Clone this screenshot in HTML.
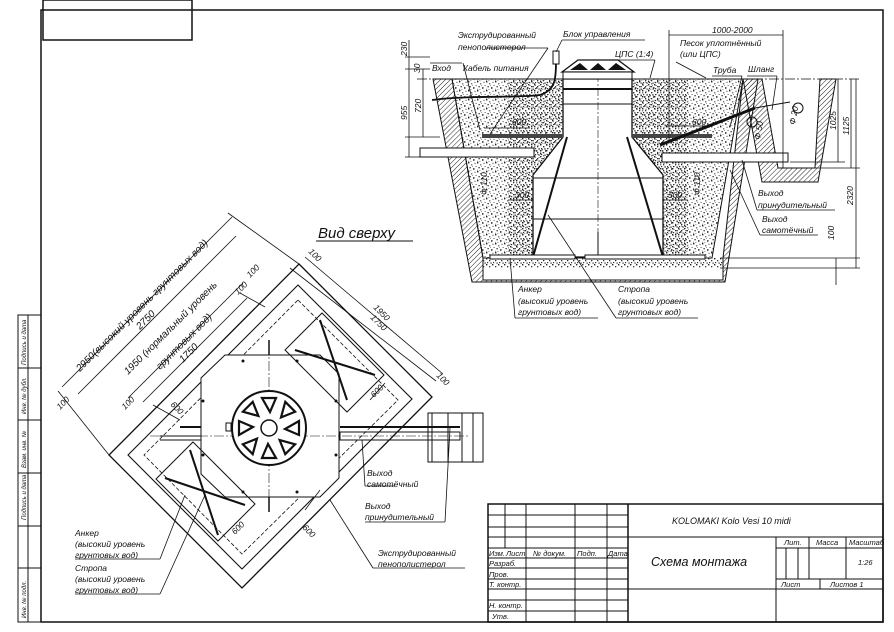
<!DOCTYPE html>
<html><head><meta charset="utf-8"><style>
html,body{margin:0;padding:0;background:#fff}
svg{display:block}
text{font-family:"Liberation Sans","DejaVu Sans",sans-serif;font-style:italic;fill:#111}
</style></head><body>
<svg width="894" height="632" viewBox="0 0 894 632" xmlns="http://www.w3.org/2000/svg">
<defs>
<pattern id="st" width="9" height="9" patternUnits="userSpaceOnUse">
<rect x="0" y="0" width="1.4" height="1.4" fill="#222"/><rect x="3.1" y="2.2" width="1.2" height="1.2" fill="#444"/><rect x="6.5" y="0.8" width="1" height="1" fill="#333"/>
<rect x="1.5" y="5" width="1.3" height="1.3" fill="#333"/><rect x="5" y="6.2" width="1.5" height="1.5" fill="#222"/><rect x="7.6" y="4" width="1" height="1" fill="#555"/>
<rect x="4.2" y="4" width="0.8" height="0.8" fill="#666"/><rect x="0.2" y="7.8" width="0.9" height="0.9" fill="#555"/><rect x="2.5" y="8" width="0.8" height="0.8" fill="#444"/>
</pattern>
<pattern id="st2" width="6" height="6" patternUnits="userSpaceOnUse">
<rect x="0" y="0" width="1.4" height="1.4" fill="#222"/><rect x="3" y="2" width="1.3" height="1.3" fill="#333"/><rect x="1" y="4" width="1.2" height="1.2" fill="#333"/><rect x="4.5" y="4.5" width="1.2" height="1.2" fill="#222"/>
</pattern>
<pattern id="hc" width="3.5" height="3.5" patternUnits="userSpaceOnUse" patternTransform="rotate(45)">
<line x1="0" y1="0" x2="0" y2="3.5" stroke="#222" stroke-width="1"/>
</pattern>
</defs>
<rect width="894" height="632" fill="#fff"/>
<g fill="none" stroke="#111" stroke-width="1.5">
<rect x="43" y="0" width="149" height="40"/>
<rect x="41" y="10" width="842" height="612"/>
<rect x="18" y="315" width="23" height="307" stroke-width="1"/>
<line x1="28" y1="315" x2="28" y2="622" stroke-width="1"/>
<line x1="18" y1="368" x2="41" y2="368" stroke-width="1"/>
<line x1="18" y1="420" x2="41" y2="420" stroke-width="1"/>
<line x1="18" y1="473" x2="41" y2="473" stroke-width="1"/>
<line x1="18" y1="526" x2="41" y2="526" stroke-width="1"/>
<line x1="18" y1="568" x2="41" y2="568" stroke-width="1"/>
</g>
<g font-size="6">
<text transform="translate(26,365) rotate(-90)">Подпись и дата</text>
<text transform="translate(26,414) rotate(-90)">Инв. № дубл.</text>
<text transform="translate(26,468) rotate(-90)">Взам. инв. №</text>
<text transform="translate(26,520) rotate(-90)">Подпись и дата</text>
<text transform="translate(26,618) rotate(-90)">Инв. № подл.</text>
</g>

<!-- SECTION VIEW -->
<polygon points="433,79 452,79 483,258 483,280 723,280 723,258 743,79 758,79 725,282 472,282" fill="url(#hc)" stroke="#111"/>
<polygon points="743,79 762,79 778,168 815,168 820,79 836,79 818,182 762,182" fill="url(#hc)" stroke="#111"/>
<polygon points="483,258 723,258 723,268 483,268" fill="url(#st2)"/>
<polygon points="452,79 743,79 712,258 483,258" fill="url(#st)" stroke="#111"/>
<rect x="508" y="79" width="55" height="178" fill="url(#st2)"/>
<rect x="632" y="79" width="56" height="178" fill="url(#st2)"/>
<polygon points="563,79 632,79 632,137 663,175 663,257 533,257 533,175 563,137" fill="#fff" stroke="#111" stroke-width="1.3"/>
<line x1="563" y1="89" x2="632" y2="89" stroke="#111" stroke-width="2"/>
<line x1="563" y1="104" x2="632" y2="104" stroke="#111"/>
<line x1="567" y1="137" x2="533" y2="257" stroke="#111" stroke-width="2"/>
<line x1="627" y1="137" x2="663" y2="257" stroke="#111" stroke-width="2"/>
<line x1="533" y1="178" x2="663" y2="178" stroke="#111"/>
<line x1="533" y1="219" x2="663" y2="219" stroke="#111"/>
<line x1="598" y1="232" x2="598" y2="257" stroke="#111"/>
<line x1="598" y1="60" x2="598" y2="258" stroke="#111" stroke-dasharray="8,2,2,2" stroke-width="0.6"/>
<polygon points="562,72 578,60 618,60 634,72" fill="#fff" stroke="#111" stroke-width="1.3"/>
<polygon points="570,70 580,63 588,70" fill="#111"/><polygon points="590,70 598,63 606,70" fill="#111"/><polygon points="608,70 616,63 626,70" fill="#111"/>
<rect x="563" y="72" width="69" height="7" fill="#fff" stroke="#111"/>
<rect x="490" y="255" width="85" height="4" fill="#fff" stroke="#111"/>
<rect x="585" y="255" width="120" height="4" fill="#fff" stroke="#111"/>
<rect x="482" y="134" width="81" height="4" fill="#444"/>
<rect x="632" y="134" width="80" height="4" fill="#444"/>
<rect x="420" y="148" width="114" height="9" fill="#fff" stroke="#111"/>
<rect x="662" y="153" width="126" height="9" fill="#fff" stroke="#111"/>
<line x1="660" y1="145" x2="755" y2="108" stroke="#111" stroke-width="3"/>
<line x1="755" y1="108" x2="790" y2="102" stroke="#111"/>
<circle cx="798" cy="108" r="5" fill="none" stroke="#111"/>
<circle cx="752" cy="122" r="5" fill="none" stroke="#111"/>
<path d="M432,100 C470,95 520,98 540,95 C555,90 556,80 556,62" fill="none" stroke="#111" stroke-width="1.8"/>
<rect x="553" y="51" width="6" height="13" fill="#fff" stroke="#111"/>
<line x1="417" y1="79" x2="860" y2="79" stroke="#111" stroke-dasharray="10,2,2,2" stroke-width="0.8"/>
<g stroke="#111" stroke-width="0.8" fill="none">
<line x1="409" y1="40" x2="409" y2="157"/><line x1="423" y1="69" x2="423" y2="137"/>
<line x1="405" y1="57" x2="430" y2="57"/><line x1="405" y1="69" x2="430" y2="69"/><line x1="405" y1="137" x2="440" y2="137"/><line x1="405" y1="157" x2="420" y2="157"/>
<line x1="669" y1="30" x2="669" y2="140"/><line x1="783" y1="30" x2="783" y2="168"/><line x1="669" y1="35" x2="783" y2="35"/>
<line x1="838" y1="79" x2="838" y2="162"/><line x1="851" y1="79" x2="851" y2="168"/><line x1="856" y1="79" x2="856" y2="268"/>
<line x1="836" y1="258" x2="836" y2="285"/><line x1="720" y1="258" x2="860" y2="258"/><line x1="720" y1="268" x2="860" y2="268"/>
<line x1="790" y1="162" x2="845" y2="162"/><line x1="790" y1="168" x2="860" y2="168"/>
<line x1="484" y1="128" x2="530" y2="128"/><line x1="665" y1="126" x2="707" y2="126"/>
<line x1="508" y1="200" x2="533" y2="200"/><line x1="663" y1="200" x2="688" y2="200"/>
<line x1="430" y1="63" x2="462" y2="63"/><line x1="463" y1="63" x2="480" y2="130"/>
<line x1="486" y1="48" x2="548" y2="48"/><line x1="548" y1="48" x2="490" y2="134"/>
<line x1="562" y1="40" x2="645" y2="40"/><line x1="562" y1="40" x2="556" y2="52"/>
<line x1="615" y1="60" x2="655" y2="60"/><line x1="655" y1="60" x2="650" y2="78"/>
<line x1="676" y1="62" x2="706" y2="78"/>
<line x1="712" y1="76" x2="742" y2="76"/><line x1="742" y1="76" x2="730" y2="127"/>
<line x1="747" y1="76" x2="777" y2="76"/><line x1="777" y1="76" x2="772" y2="110"/>
<line x1="757" y1="210" x2="835" y2="210"/><line x1="757" y1="210" x2="742" y2="160"/>
<line x1="760" y1="235" x2="818" y2="235"/><line x1="760" y1="235" x2="730" y2="170"/>
<line x1="515" y1="318" x2="598" y2="318"/><line x1="515" y1="318" x2="510" y2="258"/>
<line x1="616" y1="318" x2="698" y2="318"/><line x1="616" y1="318" x2="548" y2="215"/>
</g>
<g font-size="8.5">
<text x="458" y="38">Экструдированный</text><text x="458" y="50">пенополистерол</text>
<text x="563" y="37">Блок управления</text>
<text x="615" y="57">ЦПС (1:4)</text>
<text x="712" y="33">1000-2000</text>
<text x="680" y="46">Песок уплотнённый</text><text x="680" y="57">(или ЦПС)</text>
<text x="713" y="73">Труба</text><text x="748" y="72">Шланг</text>
<text x="432" y="71">Вход</text><text x="463" y="71">Кабель питания</text>
<text x="512" y="125">600</text><text x="692" y="125">600</text>
<text x="515" y="198">300</text><text x="668" y="198">300</text>
<text x="758" y="196">Выход</text><text x="758" y="208">принудительный</text>
<text x="762" y="222">Выход</text><text x="762" y="233">самотёчный</text>
<text x="518" y="292">Анкер</text><text x="518" y="304">(высокий уровень</text><text x="518" y="315">грунтовых вод)</text>
<text x="618" y="292">Стропа</text><text x="618" y="304">(высокий уровень</text><text x="618" y="315">грунтовых вод)</text>
<text transform="translate(407,56) rotate(-90)">230</text>
<text transform="translate(420,73) rotate(-90)">30</text>
<text transform="translate(407,120) rotate(-90)">955</text>
<text transform="translate(421,113) rotate(-90)">720</text>
<text transform="translate(836,130) rotate(-90)">1025</text>
<text transform="translate(849,135) rotate(-90)">1125</text>
<text transform="translate(853,205) rotate(-90)">2320</text>
<text transform="translate(834,240) rotate(-90)">100</text>
<text transform="translate(487,195) rotate(-90)">Ф 110</text>
<text transform="translate(700,195) rotate(-90)">Ф 110</text>
<text transform="translate(795,125) rotate(-80)">Ф 20</text>
<text transform="translate(760,140) rotate(-80)">Ф 50</text>
</g>

<!-- TOP VIEW -->
<polygon points="299,264 432,397 242,588 109,455" fill="#fff" stroke="#111" stroke-width="1.3"/>
<polygon points="298,285 412,399 242,569 128,455" fill="none" stroke="#111" stroke-width="1.1"/>
<polygon points="298,300 398,400 242,554 144,455" fill="none" stroke="#111" stroke-width="0.8" stroke-dasharray="4,2"/>
<polygon points="225,355 320,355 339,374 339,478 320,497 225,497 201,474 201,378" fill="#fff" stroke="#111"/>
<rect x="428" y="413" width="55" height="49" fill="#fff" stroke="#111"/>
<line x1="432" y1="413" x2="432" y2="462" stroke="#111"/><line x1="448" y1="413" x2="448" y2="462" stroke="#111"/><line x1="462" y1="413" x2="462" y2="462" stroke="#111"/><line x1="473" y1="413" x2="473" y2="462" stroke="#111"/>
<line x1="340" y1="427" x2="460" y2="427" stroke="#111" stroke-width="2"/>
<rect x="340" y="432" width="120" height="8" fill="none" stroke="#111"/>
<line x1="160" y1="436" x2="201" y2="436" stroke="#111"/><line x1="160" y1="440" x2="201" y2="440" stroke="#111"/>
<line x1="180" y1="427" x2="201" y2="427" stroke="#111" stroke-width="2"/>
<line x1="150" y1="436" x2="470" y2="436" stroke="#111" stroke-width="0.6" stroke-dasharray="10,2,2,2"/>
<line x1="269" y1="345" x2="269" y2="510" stroke="#111" stroke-width="0.6" stroke-dasharray="10,2,2,2"/>
<line x1="269" y1="340" x2="269" y2="355" stroke="#111" stroke-width="1.5"/>
<line x1="269" y1="497" x2="269" y2="512" stroke="#111" stroke-width="1.5"/>
<circle cx="269" cy="428" r="37" fill="#fff" stroke="#111" stroke-width="2"/>
<circle cx="269" cy="428" r="8" fill="none" stroke="#111" stroke-width="1.5"/>
<g fill="none" stroke="#111" stroke-width="2.2">
<path d="M262,398 L276,398 L270,412 Z"/>
<path d="M262,398 L276,398 L270,412 Z" transform="rotate(45 269 428)"/>
<path d="M262,398 L276,398 L270,412 Z" transform="rotate(90 269 428)"/>
<path d="M262,398 L276,398 L270,412 Z" transform="rotate(135 269 428)"/>
<path d="M262,398 L276,398 L270,412 Z" transform="rotate(180 269 428)"/>
<path d="M262,398 L276,398 L270,412 Z" transform="rotate(225 269 428)"/>
<path d="M262,398 L276,398 L270,412 Z" transform="rotate(270 269 428)"/>
<path d="M262,398 L276,398 L270,412 Z" transform="rotate(315 269 428)"/>
</g>
<rect x="226" y="423" width="5" height="8" fill="#fff" stroke="#111"/>
<g fill="#111"><circle cx="243" cy="361" r="1.5"/><circle cx="297" cy="361" r="1.5"/><circle cx="203" cy="401" r="1.5"/><circle cx="336" cy="401" r="1.5"/><circle cx="203" cy="455" r="1.5"/><circle cx="336" cy="455" r="1.5"/><circle cx="243" cy="492" r="1.5"/><circle cx="297" cy="492" r="1.5"/></g>
<g fill="none" stroke="#111">
<polygon points="322,313 384,375 347,412 285,350"/>
<polygon points="193,442 255,504 218,541 156,479"/>
</g>
<g stroke="#111" stroke-width="2"><line x1="295" y1="350" x2="375" y2="375"/><line x1="320" y1="320" x2="347" y2="400"/>
<line x1="165" y1="478" x2="245" y2="505"/><line x1="190" y1="450" x2="218" y2="535"/></g>
<g stroke="#111" stroke-width="0.8" fill="none">
<line x1="62" y1="387" x2="232" y2="217"/><line x1="78" y1="394" x2="236" y2="236"/>
<line x1="128" y1="398" x2="243" y2="283"/><line x1="143" y1="402" x2="247" y2="298"/>
<line x1="58" y1="391" x2="109" y2="455"/><line x1="228" y1="213" x2="299" y2="264"/>
<line x1="305" y1="257" x2="443" y2="374"/><line x1="290" y1="268" x2="436" y2="381"/>
<line x1="153" y1="405" x2="180" y2="420"/><line x1="240" y1="293" x2="265" y2="307"/>
<line x1="320" y1="490" x2="305" y2="510"/><line x1="370" y1="400" x2="385" y2="383"/>
<line x1="365" y1="486" x2="395" y2="486"/><line x1="365" y1="486" x2="362" y2="440"/>
<line x1="365" y1="522" x2="445" y2="522"/><line x1="445" y1="522" x2="450" y2="428"/>
<line x1="373" y1="568" x2="465" y2="568"/><line x1="373" y1="568" x2="330" y2="500"/>
<line x1="75" y1="559" x2="160" y2="559"/><line x1="160" y1="559" x2="185" y2="495"/>
<line x1="75" y1="594" x2="160" y2="594"/><line x1="160" y1="594" x2="205" y2="495"/>
</g>
<g font-size="10">
<text transform="translate(80,372) rotate(-45)">2950(высокий уровень грунтовых вод)</text>
<text transform="translate(140,330) rotate(-45)">2750</text>
<text transform="translate(128,375) rotate(-45)">1950 (нормальный уровень</text>
<text transform="translate(160,370) rotate(-45)">грунтовых вод)</text>
<text transform="translate(183,363) rotate(-45)">1750</text>
</g>
<g font-size="8.5">
<text transform="translate(60,410) rotate(-45)">100</text>
<text transform="translate(125,410) rotate(-45)">100</text>
<text transform="translate(238,295) rotate(-45)">100</text>
<text transform="translate(250,278) rotate(-45)">100</text>
<text transform="translate(308,252) rotate(45)">100</text>
<text transform="translate(436,376) rotate(45)">100</text>
<text transform="translate(373,308) rotate(45)">1950</text>
<text transform="translate(370,318) rotate(45)">1750</text>
<text transform="translate(170,405) rotate(45)">600</text>
<text transform="translate(374,398) rotate(-45)">600</text>
<text transform="translate(235,535) rotate(-45)">600</text>
<text transform="translate(302,528) rotate(45)">600</text>
<text x="367" y="476">Выход</text><text x="367" y="487">самотёчный</text>
<text x="365" y="509">Выход</text><text x="365" y="520">принудительный</text>
<text x="378" y="556">Экструдированный</text><text x="378" y="567">пенополистерол</text>
<text x="75" y="536">Анкер</text><text x="75" y="547">(высокий уровень</text><text x="75" y="558">грунтовых вод)</text>
<text x="75" y="571">Стропа</text><text x="75" y="582">(высокий уровень</text><text x="75" y="593">грунтовых вод)</text>
</g>
<text x="318" y="238" font-size="15">Вид сверху</text>
<line x1="316" y1="241" x2="413" y2="241" stroke="#111"/>

<!-- TITLE BLOCK -->
<g fill="none" stroke="#111" stroke-width="1">
<rect x="488" y="504" width="395" height="118" stroke-width="1.5"/>
<line x1="628" y1="504" x2="628" y2="622" stroke-width="1.5"/>
<line x1="505" y1="504" x2="505" y2="548"/><line x1="526" y1="504" x2="526" y2="622"/><line x1="575" y1="504" x2="575" y2="622"/><line x1="607" y1="504" x2="607" y2="622"/>
<line x1="488" y1="515" x2="628" y2="515"/><line x1="488" y1="527" x2="628" y2="527"/><line x1="488" y1="537" x2="628" y2="537"/><line x1="488" y1="548" x2="628" y2="548"/>
<line x1="488" y1="558" x2="628" y2="558"/><line x1="488" y1="568" x2="628" y2="568"/><line x1="488" y1="579" x2="628" y2="579"/><line x1="488" y1="589" x2="628" y2="589"/><line x1="488" y1="600" x2="628" y2="600"/><line x1="488" y1="611" x2="628" y2="611"/>
<line x1="628" y1="537" x2="883" y2="537"/><line x1="628" y1="589" x2="883" y2="589"/>
<line x1="776" y1="537" x2="776" y2="622"/><line x1="776" y1="548" x2="883" y2="548"/><line x1="776" y1="579" x2="883" y2="579"/>
<line x1="786" y1="548" x2="786" y2="579"/><line x1="798" y1="548" x2="798" y2="579"/><line x1="809" y1="537" x2="809" y2="579"/><line x1="846" y1="537" x2="846" y2="579"/><line x1="820" y1="579" x2="820" y2="589"/>
</g>
<g font-size="7.5">
<text x="489" y="556">Изм.</text><text x="506" y="556">Лист</text><text x="533" y="556">№ докум.</text><text x="577" y="556">Подп.</text><text x="608" y="556">Дата</text>
<text x="489" y="566">Разраб.</text><text x="489" y="577">Пров.</text><text x="489" y="587">Т. контр.</text>
<text x="489" y="608">Н. контр.</text><text x="492" y="619">Утв.</text>
<text x="784" y="545">Лит.</text><text x="816" y="545">Масса</text><text x="849" y="545">Масштаб</text>
<text x="858" y="565">1:26</text>
<text x="781" y="587">Лист</text><text x="830" y="587">Листов 1</text>
</g>
<text x="672" y="524" font-size="9">KOLOMAKI Kolo Vesi 10 midi</text>
<text x="651" y="566" font-size="12.5">Схема монтажа</text>
</svg>
</body></html>
